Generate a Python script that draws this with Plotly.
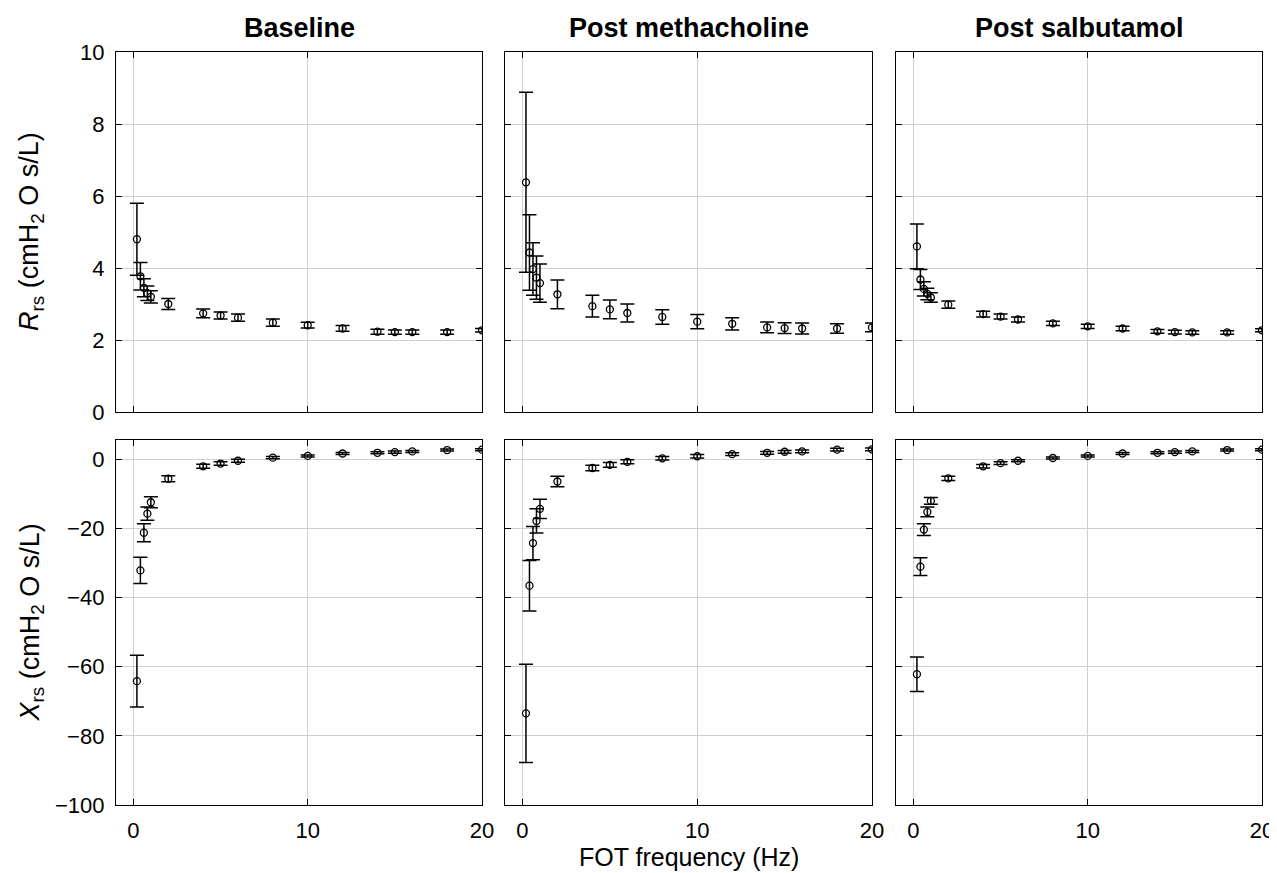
import plotly.graph_objects as go

freq = [0.2, 0.4, 0.6, 0.8, 1, 2, 4, 5, 6, 8, 10, 12, 14, 15, 16, 18, 20]
conditions = ["Baseline", "Post methacholine", "Post salbutamol"]

r_base = [4.8, 3.77, 3.45, 3.3, 3.2, 3.0, 2.74, 2.68, 2.62, 2.48, 2.41, 2.32, 2.23, 2.22, 2.22, 2.22, 2.27]
r_base_err = [1.0, 0.38, 0.25, 0.2, 0.17, 0.15, 0.12, 0.1, 0.1, 0.1, 0.08, 0.08, 0.07, 0.06, 0.06, 0.06, 0.05]
r_mch = [6.38, 4.43, 3.97, 3.73, 3.58, 3.27, 2.94, 2.85, 2.75, 2.64, 2.51, 2.45, 2.35, 2.33, 2.32, 2.32, 2.35]
r_mch_err = [2.5, 1.05, 0.73, 0.6, 0.53, 0.4, 0.3, 0.26, 0.25, 0.2, 0.2, 0.17, 0.15, 0.15, 0.15, 0.13, 0.12]
r_salb = [4.6, 3.68, 3.42, 3.28, 3.18, 2.98, 2.72, 2.65, 2.57, 2.46, 2.38, 2.32, 2.24, 2.22, 2.21, 2.21, 2.27]
r_salb_err = [0.62, 0.28, 0.2, 0.16, 0.13, 0.1, 0.08, 0.07, 0.07, 0.06, 0.06, 0.06, 0.05, 0.05, 0.05, 0.05, 0.04]

x_base = [-64.2, -32.2, -21.3, -15.8, -12.5, -5.7, -2.1, -1.3, -0.5, 0.4, 0.9, 1.6, 1.8, 2.0, 2.2, 2.6, 2.7]
x_base_err = [7.5, 3.8, 2.6, 1.9, 1.6, 0.9, 0.6, 0.5, 0.4, 0.3, 0.3, 0.3, 0.3, 0.3, 0.3, 0.3, 0.3]
x_mch = [-73.5, -36.6, -24.3, -17.9, -14.4, -6.5, -2.6, -1.7, -0.8, 0.2, 0.8, 1.4, 1.8, 2.1, 2.2, 2.7, 2.8]
x_mch_err = [14.2, 7.3, 4.8, 3.5, 2.8, 1.5, 0.8, 0.7, 0.6, 0.5, 0.5, 0.4, 0.4, 0.4, 0.4, 0.4, 0.4]
x_salb = [-62.2, -31.1, -20.4, -15.3, -12.1, -5.6, -2.1, -1.2, -0.5, 0.3, 0.9, 1.6, 1.8, 2.0, 2.2, 2.6, 2.7]
x_salb_err = [5.0, 2.6, 1.7, 1.4, 1.0, 0.6, 0.5, 0.4, 0.3, 0.3, 0.3, 0.3, 0.3, 0.3, 0.3, 0.3, 0.3]

r_series = [(r_base, r_base_err), (r_mch, r_mch_err), (r_salb, r_salb_err)]
x_series = [(x_base, x_base_err), (x_mch, x_mch_err), (x_salb, x_salb_err)]

# page body margin offsets the figure by 8px; work in screen pixels
OFF = 8
W, H = 1277 - OFF, 873 - OFF
col_px = [(116, 482), (505, 872), (896, 1262)]
row_px = [(52, 412), (440, 805)]

def px(x):
    return (x - OFF) / W

def py(y):
    return 1 - (y - OFF) / H

FONT = "Liberation Sans, Arial, Helvetica, sans-serif"
TICK_SIZE = 22

fig = go.Figure()
layout = dict(
    width=W, height=H, margin=dict(l=0, r=0, t=0, b=0, autoexpand=False),
    paper_bgcolor="white", plot_bgcolor="white", showlegend=False,
    font=dict(family=FONT, size=18, color="black"),
)

def add_panel(idx, row, col, ys, errs, yrange, ytickvals):
    xa = "x" if idx == 1 else f"x{idx}"
    ya = "y" if idx == 1 else f"y{idx}"
    fig.add_trace(go.Scatter(
        x=freq, y=ys, mode="markers", xaxis=xa, yaxis=ya,
        marker=dict(symbol="circle-open", size=7, color="black", line=dict(width=1.3, color="black")),
        error_y=dict(type="data", array=errs, visible=True, color="black", thickness=1.5, width=7),
    ))
    x0, x1 = col_px[col]
    y0, y1 = row_px[row]
    xkey = "xaxis" if idx == 1 else f"xaxis{idx}"
    ykey = "yaxis" if idx == 1 else f"yaxis{idx}"
    layout[xkey] = dict(
        domain=[px(x0), px(x1)], anchor=ya, range=[-1, 20], automargin=False,
        tickvals=[0, 10, 20], showticklabels=(row == 1), ticklabelstandoff=5,
        ticks="inside", ticklen=6, tickwidth=1, tickcolor="black",
        showline=True, linecolor="black", linewidth=1.3, mirror="ticks",
        showgrid=True, gridcolor="#d0d0d0", gridwidth=1, zeroline=False,
        tickfont=dict(size=TICK_SIZE, family=FONT),
    )
    layout[ykey] = dict(
        domain=[py(y1), py(y0)], anchor=xa, range=yrange, automargin=False,
        tickvals=ytickvals, showticklabels=(col == 0), ticklabelstandoff=6,
        ticks="inside", ticklen=6, tickwidth=1, tickcolor="black",
        showline=True, linecolor="black", linewidth=1.3, mirror="ticks",
        showgrid=True, gridcolor="#d0d0d0", gridwidth=1, zeroline=False,
        tickfont=dict(size=TICK_SIZE, family=FONT), tickformat="d",
    )
    return xkey, ykey

idx = 1
for c in range(3):
    ys, errs = r_series[c]
    add_panel(idx, 0, c, ys, errs, [0, 10], [0, 2, 4, 6, 8, 10])
    idx += 1
for c in range(3):
    ys, errs = x_series[c]
    xk, yk = add_panel(idx, 1, c, ys, errs, [-100, 5.5], [-100, -80, -60, -40, -20, 0])
    if c == 0:
        layout[yk]["ticktext"] = ["\u2212100", "\u221280", "\u221260", "\u221240", "\u221220", "0"]
    idx += 1

annotations = []
for c, name in enumerate(conditions):
    x0, x1 = col_px[c]
    annotations.append(dict(
        text=f"<b>{name}</b>", x=px((x0 + x1) / 2), y=py(28),
        xref="paper", yref="paper", showarrow=False,
        font=dict(size=27, family=FONT, color="black"), xanchor="center", yanchor="middle",
    ))
annotations.append(dict(
    text="FOT frequency (Hz)", x=px((col_px[1][0] + col_px[1][1]) / 2), y=py(857),
    xref="paper", yref="paper", showarrow=False,
    font=dict(size=25, family=FONT, color="black"), xanchor="center", yanchor="middle",
))
ytitles = [
    ("<i>R</i><sub>rs</sub> (cmH<sub>2</sub> O s/L)", row_px[0]),
    ("<i>X</i><sub>rs</sub> (cmH<sub>2</sub> O s/L)", row_px[1]),
]
for txt, (y0, y1) in ytitles:
    annotations.append(dict(
        text=txt, x=px(31), y=py((y0 + y1) / 2),
        xref="paper", yref="paper", showarrow=False, textangle=-90,
        font=dict(size=27, family=FONT, color="black"), xanchor="center", yanchor="middle",
    ))
layout["annotations"] = annotations

fig.update_layout(**layout)
fig.write_html("out.html")
